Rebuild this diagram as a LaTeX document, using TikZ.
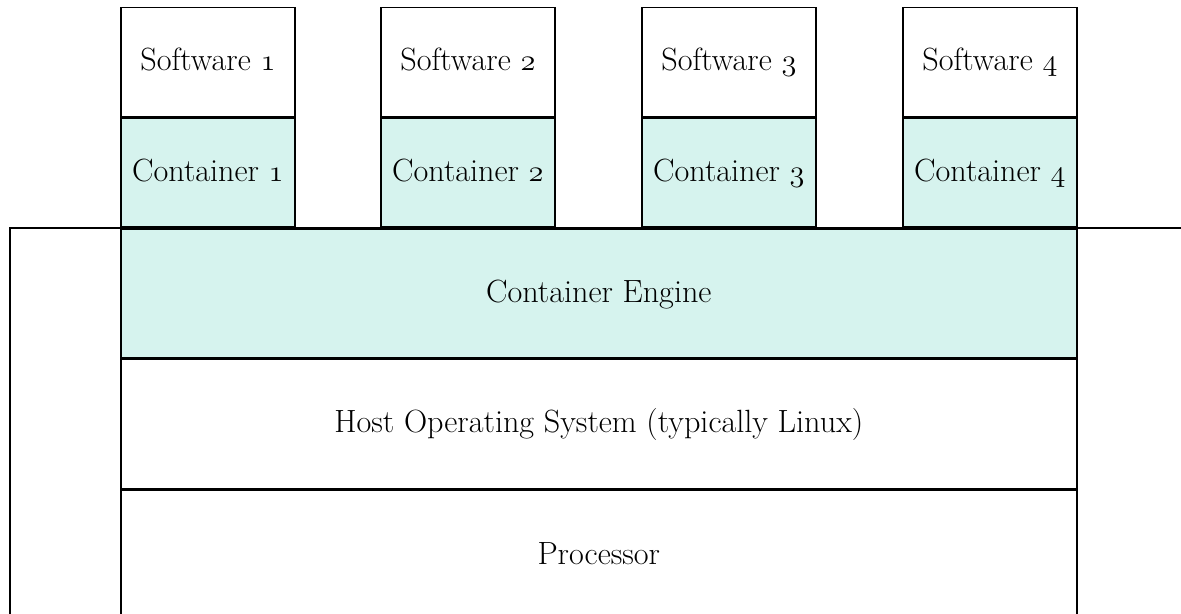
\documentclass[tikz,border=0pt]{standalone}
\usepackage{fontspec}
\usetikzlibrary{positioning}

\definecolor{mint}{RGB}{214,243,238}

% old-style figure from the math letters font
\newcommand{\osf}[1]{$\mathnormal{#1}$}

\tikzset{
    layer/.style = {draw, line width = 1pt, inner sep = 0pt,
                    minimum width = 19.12cm, minimum height = 2.58cm,
                    text height = 2.4ex, text depth = 0.1ex,
                    font = \fontsize{18.3}{22}\selectfont},
    unit/.style  = {draw, line width = 1pt, inner sep = 0pt,
                    minimum width = 3.48cm, minimum height = 2.18cm,
                    text height = 2.4ex, text depth = 0.1ex,
                    font = \fontsize{18.3}{22}\selectfont},
}

\begin{document}
\begin{tikzpicture}[x = 0.02cm, y = -0.02cm]
    \useasboundingbox (0,0) rectangle (1181,614);
    \clip (0,0) rectangle (1181,614);

    % outer machine box, runs off the page
    \draw [line width = 1pt] (10,228) rectangle (1260,700);

    \node [layer, fill = mint, anchor = north west] (engine) at (120,228) {Container Engine};
    \node [layer, below = 0pt of engine] (hostos) {Host Operating System (typically Linux)};
    \node [layer, below = 0pt of hostos, minimum height = 2.62cm] (cpu) {Processor};

    \foreach \i/\x in {1/120, 2/380, 3/641, 4/902} {
        \node [unit, fill = mint, anchor = south west] (cont\i) at (\x,228) {Container \osf{\i}};
        \node [unit, above = 0pt of cont\i] (soft\i) {Software \osf{\i}};
    }
\end{tikzpicture}
\end{document}
